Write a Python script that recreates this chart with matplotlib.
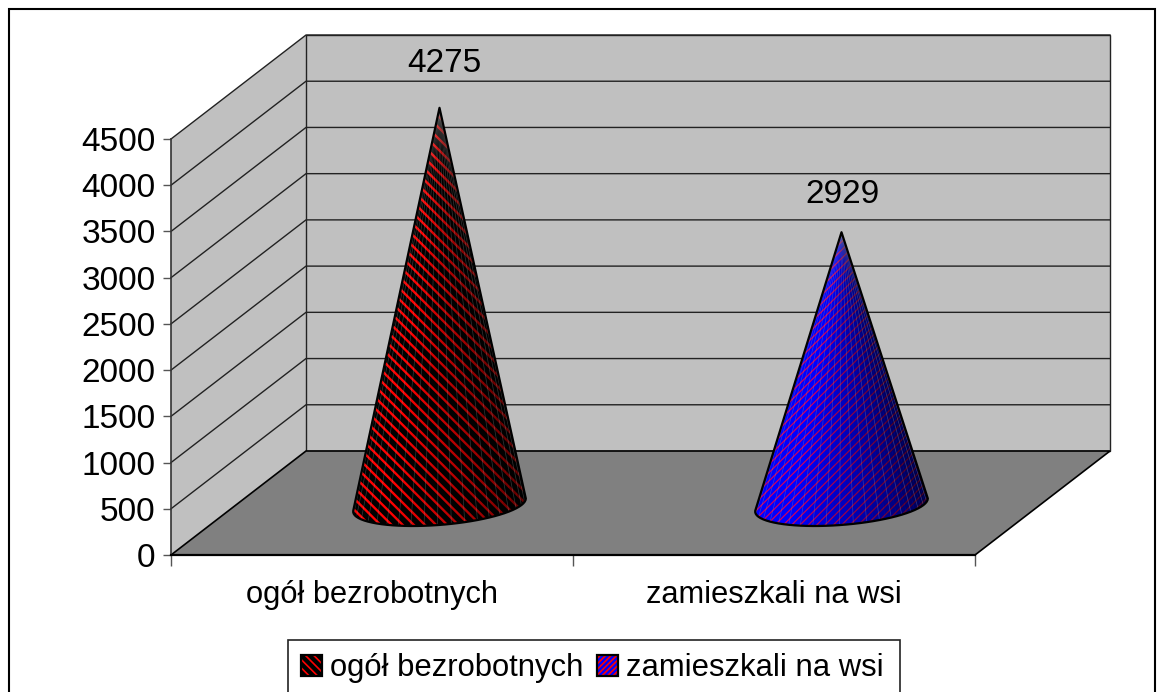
import numpy as np
import matplotlib
matplotlib.use('Agg')
import matplotlib.pyplot as plt
from matplotlib.patches import Polygon, Patch, Rectangle
from matplotlib.legend_handler import HandlerTuple

categories = ['ogół bezrobotnych', 'zamieszkali na wsi']
values = [4275, 2929]
y_ticks = [0, 500, 1000, 1500, 2000, 2500, 3000, 3500, 4000, 4500]

W, H = 1165, 692
plt.rcParams['font.family'] = ['Liberation Sans', 'DejaVu Sans']

fig = plt.figure(figsize=(W / 100, H / 100), dpi=100)
# plot box in pixels, front face of the 3d box
left, right, bottom, top = 171, 975, 555, 139
ax = fig.add_axes([left / W, 1 - bottom / H, (right - left) / W, (bottom - top) / H])
ax.set_xlim(0, 2)
ax.set_ylim(0, 4500)
ax.patch.set_visible(False)

# sizes in data units per pixel
sx = 2 / (right - left)
sy = 4500 / (bottom - top)
depth_x = 135 * sx
depth_y = 104 * sy

# left wall, back wall, floor
ax.add_patch(Polygon([(0, 0), (depth_x, depth_y), (depth_x, 4500 + depth_y), (0, 4500)],
                     fc='#c0c0c0', ec='none', clip_on=False, zorder=1))
ax.add_patch(Polygon([(depth_x, depth_y), (2 + depth_x, depth_y), (2 + depth_x, 4500 + depth_y), (depth_x, 4500 + depth_y)],
                     fc='#c0c0c0', ec='#222222', lw=1, clip_on=False, zorder=1))
ax.add_patch(Polygon([(0, 0), (2, 0), (2 + depth_x, depth_y), (depth_x, depth_y)],
                     fc='#808080', ec='black', lw=1.2, clip_on=False, zorder=2))
for t in y_ticks[1:]:
    ax.plot([0, depth_x, 2 + depth_x], [t, t + depth_y, t + depth_y], color='#222222', lw=1,
            clip_on=False, zorder=1.5)


def cone(i, value, face, hatch_col, hatch, hatch_lw, max_dark):
    cx = i + 0.5 + depth_x / 2
    cy = depth_y / 2 - 2 * sy
    tip = (cx, depth_y / 2 + value)
    ang = np.linspace(np.radians(196), np.radians(378), 41)
    bx = cx + (82 * np.cos(ang) + 27 * np.sin(ang)) * sx
    by = cy + 21 * np.sin(ang) * sy
    outline = [tip] + list(zip(bx, by))
    # patches take the hatch width from rcParams when they are created
    plt.rcParams['hatch.linewidth'] = hatch_lw
    ax.add_patch(Polygon(outline, fc=face, ec=hatch_col, hatch=hatch, lw=0, clip_on=False, zorder=3))
    # shading facets, dark towards the right
    for k in range(len(bx) - 1):
        f = k / (len(bx) - 2)
        dark = max_dark * max(0, f - 0.3) / 0.7
        ax.add_patch(Polygon([tip, (bx[k], by[k]), (bx[k + 1], by[k + 1])], fc='black', alpha=dark,
                             ec='none', lw=0, clip_on=False, zorder=3.1))
        if k % 2 == 0:
            ax.plot([tip[0], bx[k]], [tip[1], by[k]], color='#999999', lw=0.5, alpha=0.35,
                    clip_on=False, zorder=3.2)
    ax.add_patch(Polygon(outline, fc='none', ec='black', lw=1.6, joinstyle='round', clip_on=False, zorder=3.3))
    return tip


tip1 = cone(0, values[0], 'black', '#ff0000', '\\\\\\', 1.7, 0.75)
tip2 = cone(1, values[1], '#0000ff', '#d00060', '////', 0.9, 0.8)

label_gap = [44, 38]
label_dx = [5, 1]
for tip, v, gap, dx in zip((tip1, tip2), values, label_gap, label_dx):
    ax.annotate(str(v), tip, xytext=(dx * 0.72, gap * 0.72), textcoords='offset points', ha='center', va='center',
                fontsize=24, zorder=5, annotation_clip=False)

# axes
ax.set_yticks(y_ticks)
ax.set_xticks([0, 1, 2])
ax.set_xticklabels([])
ax.set_xticks([0.5, 1.5], categories, minor=True)
ax.tick_params(axis='y', labelsize=24, length=6, width=1, color='#555555', pad=5)
ax.tick_params(axis='x', which='major', length=8, width=1, color='#555555')
ax.tick_params(axis='x', which='minor', length=0, labelsize=22.2, pad=18)
ax.spines['top'].set_visible(False)
ax.spines['right'].set_visible(False)
ax.spines['left'].set_color('#333333')
ax.spines['left'].set_linewidth(1.2)
ax.spines['bottom'].set_linewidth(1.6)
ax.spines['left'].set_zorder(4)
ax.spines['bottom'].set_zorder(4)

# legend, runs off the bottom of the image like the original
plt.rcParams['hatch.linewidth'] = 1.2
h1 = Patch(fc='black', ec='#ff0000', hatch='\\\\\\\\', lw=0)
h2 = Patch(fc='#0000ff', ec='#ff0000', hatch='//////', lw=0)
b1 = Patch(fc='none', ec='black', lw=1.6)
b2 = Patch(fc='none', ec='black', lw=1.6)
fig.add_artist(Rectangle((288 / W, -0.05), (900 - 288) / W, 0.05 + 1 - 640 / H, transform=fig.transFigure,
                         fc='white', ec='#222222', lw=1.2))
fig.legend([(h1, b1), (h2, b2)], categories, ncols=2, fontsize=22.3, loc='upper left',
           bbox_to_anchor=(288 / W, 1 - 640 / H), frameon=False, borderaxespad=0, borderpad=0.42,
           handlelength=0.68, handleheight=0.68, handletextpad=0.25, columnspacing=0.45, labelspacing=0,
           handler_map={tuple: HandlerTuple(ndivide=1, pad=0)})

# outer chart border
fig.add_artist(Rectangle((9 / W, -0.05), (1155 - 9) / W, 1.05 - 9 / H, transform=fig.transFigure,
                         fc='none', ec='black', lw=1.5))

fig.savefig('out.png', dpi=100)
